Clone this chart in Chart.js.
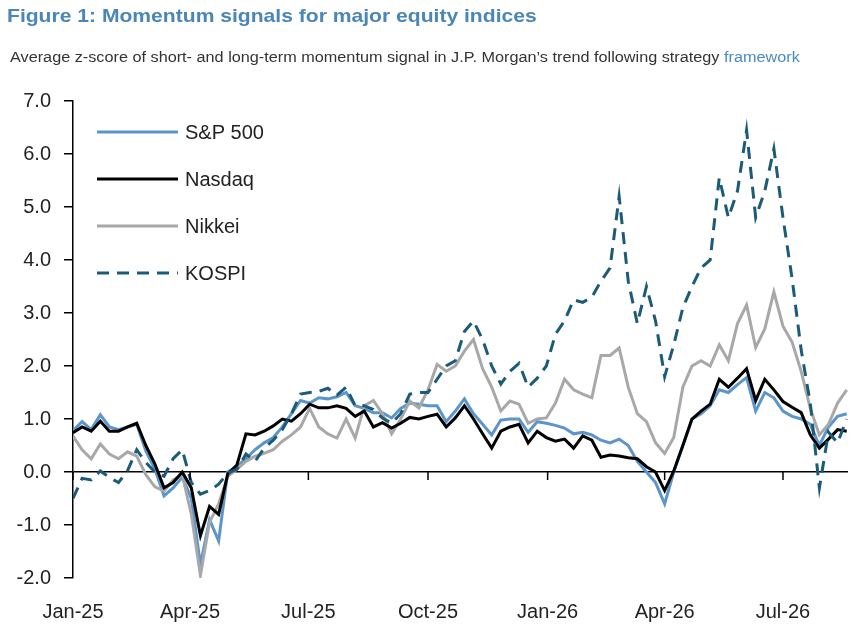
<!DOCTYPE html>
<html>
<head>
<meta charset="utf-8">
<script src="https://cdn.jsdelivr.net/npm/chart.js@4.4.1/dist/chart.umd.min.js"></script>
<style>
  body { margin: 0; background: #fff; font-family: "Liberation Sans", Arial, sans-serif; }
  #wrap { position: relative; width: 859px; height: 626px; }
  #title { position: absolute; left: 7px; top: 5px; font-size: 19px; font-weight: bold; color: #4a86b8;
           white-space: nowrap; transform: scaleX(1.11); transform-origin: left top; }
  #subtitle { position: absolute; left: 10px; top: 49px; font-size: 14px; color: #333;
              white-space: nowrap; transform: scaleX(1.16); transform-origin: left top; }
  #subtitle span { color: #4a8ac4; }
  canvas { position: absolute; left: 0; top: 0; }
</style>
</head>
<body>
<div id="wrap">
  <canvas id="momentumChart" width="859" height="626"></canvas>
  <div id="title">Figure 1: Momentum signals for major equity indices</div>
  <div id="subtitle">Average z-score of short- and long-term momentum signal in J.P. Morgan’s trend following strategy <span>framework</span></div>
</div>
<script>
// Weekly observations, day offsets from 1 Jan 2025
const weekDays = Array.from({ length: 86 }, (_, i) => i * 7);

// Quarter ticks on the x axis
const quarterDays = [0, 90, 181, 273, 365, 455, 546];
const quarterLabels = ["Jan-25", "Apr-25", "Jul-25", "Oct-25", "Jan-26", "Apr-26", "Jul-26"];

// Series (weekly)
const spx = [
  0.78, 0.95, 0.80, 1.08, 0.85, 0.80, 0.85, 0.90, 0.40, 0.05,
  -0.45, -0.30, -0.10, -0.50, -1.75, -0.90, -1.30, 0.00, 0.10, 0.25,
  0.42, 0.55, 0.65, 0.85, 1.10, 1.35, 1.30, 1.40, 1.38, 1.42,
  1.50, 1.25, 1.20, 1.12, 1.12, 1.02, 1.20, 1.30, 1.28, 1.25,
  1.25, 0.95, 1.15, 1.38, 1.10, 0.90, 0.70, 0.98, 1.00, 1.00,
  0.75, 0.95, 0.92, 0.88, 0.83, 0.72, 0.75, 0.70, 0.60, 0.55,
  0.62, 0.50, 0.20, 0.00, -0.20, -0.60, 0.00, 0.50, 1.00, 1.10,
  1.25, 1.55, 1.50, 1.65, 1.78, 1.15, 1.50, 1.40, 1.15, 1.05,
  1.00, 0.90, 0.50, 0.85, 1.05, 1.10
];
const nasdaq = [
  0.74, 0.85, 0.77, 0.96, 0.77, 0.77, 0.85, 0.92, 0.50, 0.15,
  -0.30, -0.20, 0.00, -0.30, -1.20, -0.65, -0.80, -0.04, 0.13, 0.72,
  0.70, 0.77, 0.87, 1.00, 0.96, 1.10, 1.28, 1.21, 1.21, 1.25,
  1.20, 1.05, 1.15, 0.85, 0.93, 0.83, 0.92, 1.03, 1.00, 1.05,
  1.09, 0.85, 1.02, 1.25, 1.00, 0.72, 0.45, 0.77, 0.85, 0.90,
  0.55, 0.77, 0.65, 0.58, 0.62, 0.45, 0.68, 0.60, 0.28, 0.32,
  0.30, 0.27, 0.25, 0.10, 0.00, -0.35, 0.02, 0.50, 1.00, 1.15,
  1.28, 1.75, 1.60, 1.77, 1.95, 1.35, 1.75, 1.55, 1.33, 1.22,
  1.12, 0.70, 0.45, 0.62, 0.80, 0.77
];
const nikkei = [
  0.68, 0.42, 0.25, 0.53, 0.34, 0.25, 0.38, 0.30, -0.05, -0.28,
  -0.36, -0.15, -0.05, -0.80, -1.95, -0.95, -0.60, -0.08, 0.05, 0.20,
  0.30, 0.35, 0.42, 0.58, 0.70, 0.85, 1.20, 0.85, 0.72, 0.64,
  1.00, 0.64, 1.25, 1.35, 1.10, 0.72, 1.00, 1.34, 1.21, 1.55,
  2.03, 1.90, 2.00, 2.28, 2.50, 1.95, 1.60, 1.15, 1.34, 1.28,
  0.92, 1.00, 1.02, 1.30, 1.75, 1.55, 1.47, 1.40, 2.20, 2.20,
  2.34, 1.60, 1.10, 0.95, 0.55, 0.35, 0.65, 1.60, 2.00, 2.10,
  2.00, 2.40, 2.10, 2.80, 3.15, 2.35, 2.70, 3.40, 2.75, 2.45,
  1.90, 1.20, 0.70, 0.90, 1.30, 1.55
];
const kospi = [
  -0.50, -0.12, -0.15, 0.02, -0.10, -0.20, 0.03, 0.42, 0.18, 0.00,
  -0.08, 0.25, 0.42, -0.20, -0.42, -0.35, -0.23, -0.02, 0.05, 0.34,
  0.20, 0.45, 0.60, 0.80, 1.10, 1.47, 1.50, 1.52, 1.58, 1.45,
  1.60, 1.25, 1.25, 1.18, 1.02, 0.92, 1.10, 1.47, 1.50, 1.50,
  1.75, 2.00, 2.10, 2.65, 2.85, 2.50, 2.00, 1.66, 1.90, 2.05,
  1.60, 1.77, 2.00, 2.60, 2.85, 3.25, 3.20, 3.30, 3.60, 3.85,
  5.20, 3.60, 2.80, 3.50, 2.85, 1.80, 2.40, 3.10, 3.50, 3.85,
  4.00, 5.55, 4.80, 5.30, 6.45, 4.80, 5.30, 6.10, 4.80, 3.65,
  2.30, 1.30, -0.30, 0.75, 0.55, 1.00
];

const seriesNames = ["S&P 500", "Nasdaq", "Nikkei", "KOSPI"];
const seriesColors = ["#5b95cc", "#000000", "#a8a8a8", "#1c5b78"];
const seriesValues = [spx, nasdaq, nikkei, kospi];
const seriesDash = [[], [], [], [12, 8]];
const seriesOrder = [3, 1, 2, 0];

const FONT = "'Liberation Sans', Arial, sans-serif";

// Legend drawn inside the plot area, top left
const insideLegend = {
  id: "insideLegend",
  afterDraw(chart) {
    const { ctx, chartArea } = chart;
    ctx.save();
    chart.data.datasets.forEach((ds, i) => {
      const y = chartArea.top + 31 + i * 47;
      const x0 = chartArea.left + 24;
      ctx.beginPath();
      ctx.setLineDash(ds.borderDash || []);
      ctx.strokeStyle = ds.borderColor;
      ctx.lineWidth = 3;
      ctx.moveTo(x0, y);
      ctx.lineTo(x0 + 81, y);
      ctx.stroke();
      ctx.setLineDash([]);
      ctx.fillStyle = "#222";
      ctx.font = "20px " + FONT;
      ctx.textBaseline = "middle";
      ctx.fillText(ds.label, x0 + 88, y + 1);
    });
    ctx.restore();
  }
};

// Quarter tick marks hang from the zero line
const zeroTicks = {
  id: "zeroTicks",
  afterDatasetsDraw(chart) {
    const { ctx, scales } = chart;
    const y0 = scales.y.getPixelForValue(0);
    ctx.save();
    ctx.strokeStyle = "#000";
    ctx.lineWidth = 1.5;
    quarterDays.forEach(d => {
      const x = scales.x.getPixelForValue(d);
      ctx.beginPath();
      ctx.moveTo(x, y0);
      ctx.lineTo(x, y0 + 8);
      ctx.stroke();
    });
    ctx.restore();
  }
};

new Chart(document.getElementById("momentumChart"), {
  type: "line",
  data: {
    datasets: seriesNames.map((name, i) => ({
      label: name,
      data: weekDays.map((d, j) => ({ x: d, y: seriesValues[i][j] })),
      borderColor: seriesColors[i],
      backgroundColor: seriesColors[i],
      borderDash: seriesDash[i],
      borderWidth: 3,
      pointRadius: 0,
      tension: 0,
      order: seriesOrder[i]
    }))
  },
  options: {
    responsive: false,
    animation: false,
    layout: { padding: { top: 101, right: 11, left: 0, bottom: 0 } },
    plugins: { legend: { display: false }, tooltip: { enabled: false } },
    scales: {
      x: {
        type: "linear",
        min: 0,
        max: 596,
        afterBuildTicks: scale => { scale.ticks = quarterDays.map(v => ({ value: v })); },
        afterFit: scale => { scale.height = 48; },
        border: { display: false },
        grid: { display: false },
        ticks: {
          color: "#222",
          font: { size: 20, family: FONT },
          padding: 14,
          maxRotation: 0,
          autoSkip: false,
          callback: (v) => quarterLabels[quarterDays.indexOf(v)]
        }
      },
      y: {
        min: -2,
        max: 7,
        afterFit: scale => { scale.width = 73; },
        border: { display: true, color: "#000", width: 1.5 },
        grid: {
          drawOnChartArea: true,
          color: c => (c.tick && c.tick.value === 0 ? "#000" : "rgba(0,0,0,0)"),
          lineWidth: 1.5,
          tickColor: "#000",
          tickLength: 9
        },
        ticks: {
          stepSize: 1,
          color: "#222",
          font: { size: 20, family: FONT },
          padding: 13,
          callback: v => v.toFixed(1)
        }
      }
    }
  },
  plugins: [insideLegend, zeroTicks]
});
</script>
</body>
</html>
